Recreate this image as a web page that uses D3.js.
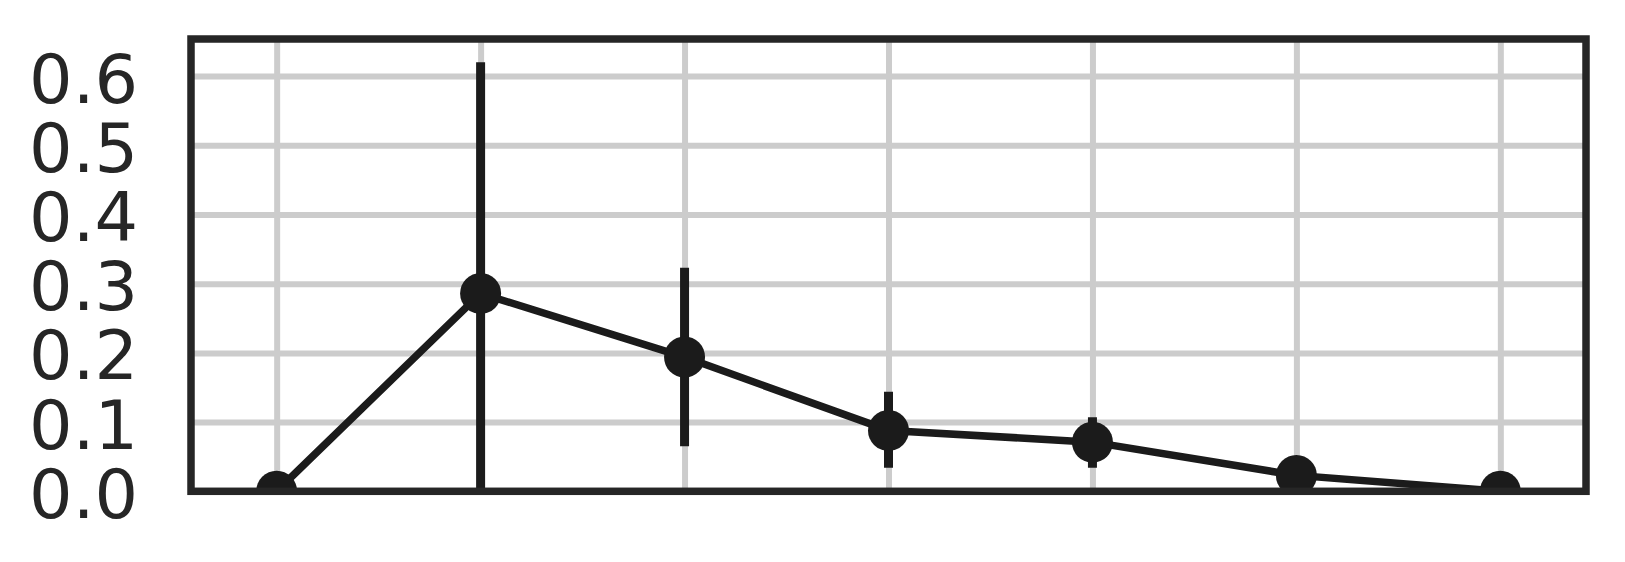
<!DOCTYPE html>
<html>
<head>
<meta charset="utf-8">
<script src="https://cdn.jsdelivr.net/npm/d3@7"></script>
<style>
  html, body { margin: 0; padding: 0; background: #ffffff; }
  svg { display: block; }
</style>
</head>
<body>
<svg id="chart" width="1625" height="562"></svg>
<script>
// ---- data ----
const categories = [0, 1, 2, 3, 4, 5, 6];
const means      = [0.0, 0.286, 0.194, 0.088, 0.071, 0.023, 0.0];
const ciLow      = [0.0, 0.0,   0.065, 0.034, 0.034, 0.0,   0.0];
const ciHigh     = [0.0, 0.620, 0.323, 0.144, 0.107, 0.045, 0.0];
const yTicks     = [0.0, 0.1, 0.2, 0.3, 0.4, 0.5, 0.6];
const yTickLabels = ["0.0", "0.1", "0.2", "0.3", "0.4", "0.5", "0.6"];

// ---- layout ----
const pLeft = 191, pRight = 1586, pTop = 39, pBottom = 491.3;
const svg = d3.select("#chart");

const x = d3.scaleLinear().domain([-0.42, 6.42]).range([pLeft, pRight]);
const y = d3.scaleLinear().domain([0, 0.6536]).range([pBottom, pTop]);

const ink = "#1b1b1b", frameCol = "#262626", gridCol = "#cccccc";

// grid lines
const gx = d3.axisBottom(x).tickValues(categories).tickSize(-(pBottom - pTop)).tickFormat("");
svg.append("g").attr("transform", `translate(0,${pBottom})`).call(gx)
  .call(g => g.select(".domain").remove())
  .call(g => g.selectAll("line").attr("stroke", gridCol).attr("stroke-width", 6));

const gy = d3.axisLeft(y).tickValues(yTicks).tickSize(-(pRight - pLeft)).tickFormat("");
svg.append("g").attr("transform", `translate(${pLeft},0)`).call(gy)
  .call(g => g.select(".domain").remove())
  .call(g => g.selectAll("line").attr("stroke", gridCol).attr("stroke-width", 6));

// y tick labels
svg.append("g").selectAll("text").data(yTicks).join("text")
  .attr("x", 138)
  .attr("y", d => y(d) + 26.5)
  .attr("text-anchor", "end")
  .attr("font-family", "DejaVu Sans")
  .attr("font-size", 68.5)
  .attr("fill", frameCol)
  .text((d, i) => yTickLabels[i]);

// clip for data
svg.append("clipPath").attr("id", "clip").append("rect")
  .attr("x", pLeft).attr("y", pTop).attr("width", pRight - pLeft).attr("height", pBottom - pTop);
const plot = svg.append("g").attr("clip-path", "url(#clip)");

// error bars
plot.selectAll("line.err").data(categories).join("line")
  .attr("class", "err")
  .attr("x1", d => x(d)).attr("x2", d => x(d))
  .attr("y1", (d, i) => y(ciLow[i])).attr("y2", (d, i) => y(ciHigh[i]))
  .attr("stroke", ink).attr("stroke-width", 9);

// connecting line
plot.append("path")
  .datum(categories)
  .attr("d", d3.line().x(d => x(d)).y((d, i) => y(means[i])))
  .attr("fill", "none").attr("stroke", ink).attr("stroke-width", 7.5)
  .attr("stroke-linejoin", "round");

// points
plot.selectAll("circle").data(categories).join("circle")
  .attr("cx", d => x(d)).attr("cy", (d, i) => y(means[i]))
  .attr("r", 20.5).attr("fill", ink);

// frame
svg.append("rect")
  .attr("x", pLeft).attr("y", pTop).attr("width", pRight - pLeft).attr("height", pBottom - pTop)
  .attr("fill", "none").attr("stroke", frameCol).attr("stroke-width", 7.5);
</script>
</body>
</html>
